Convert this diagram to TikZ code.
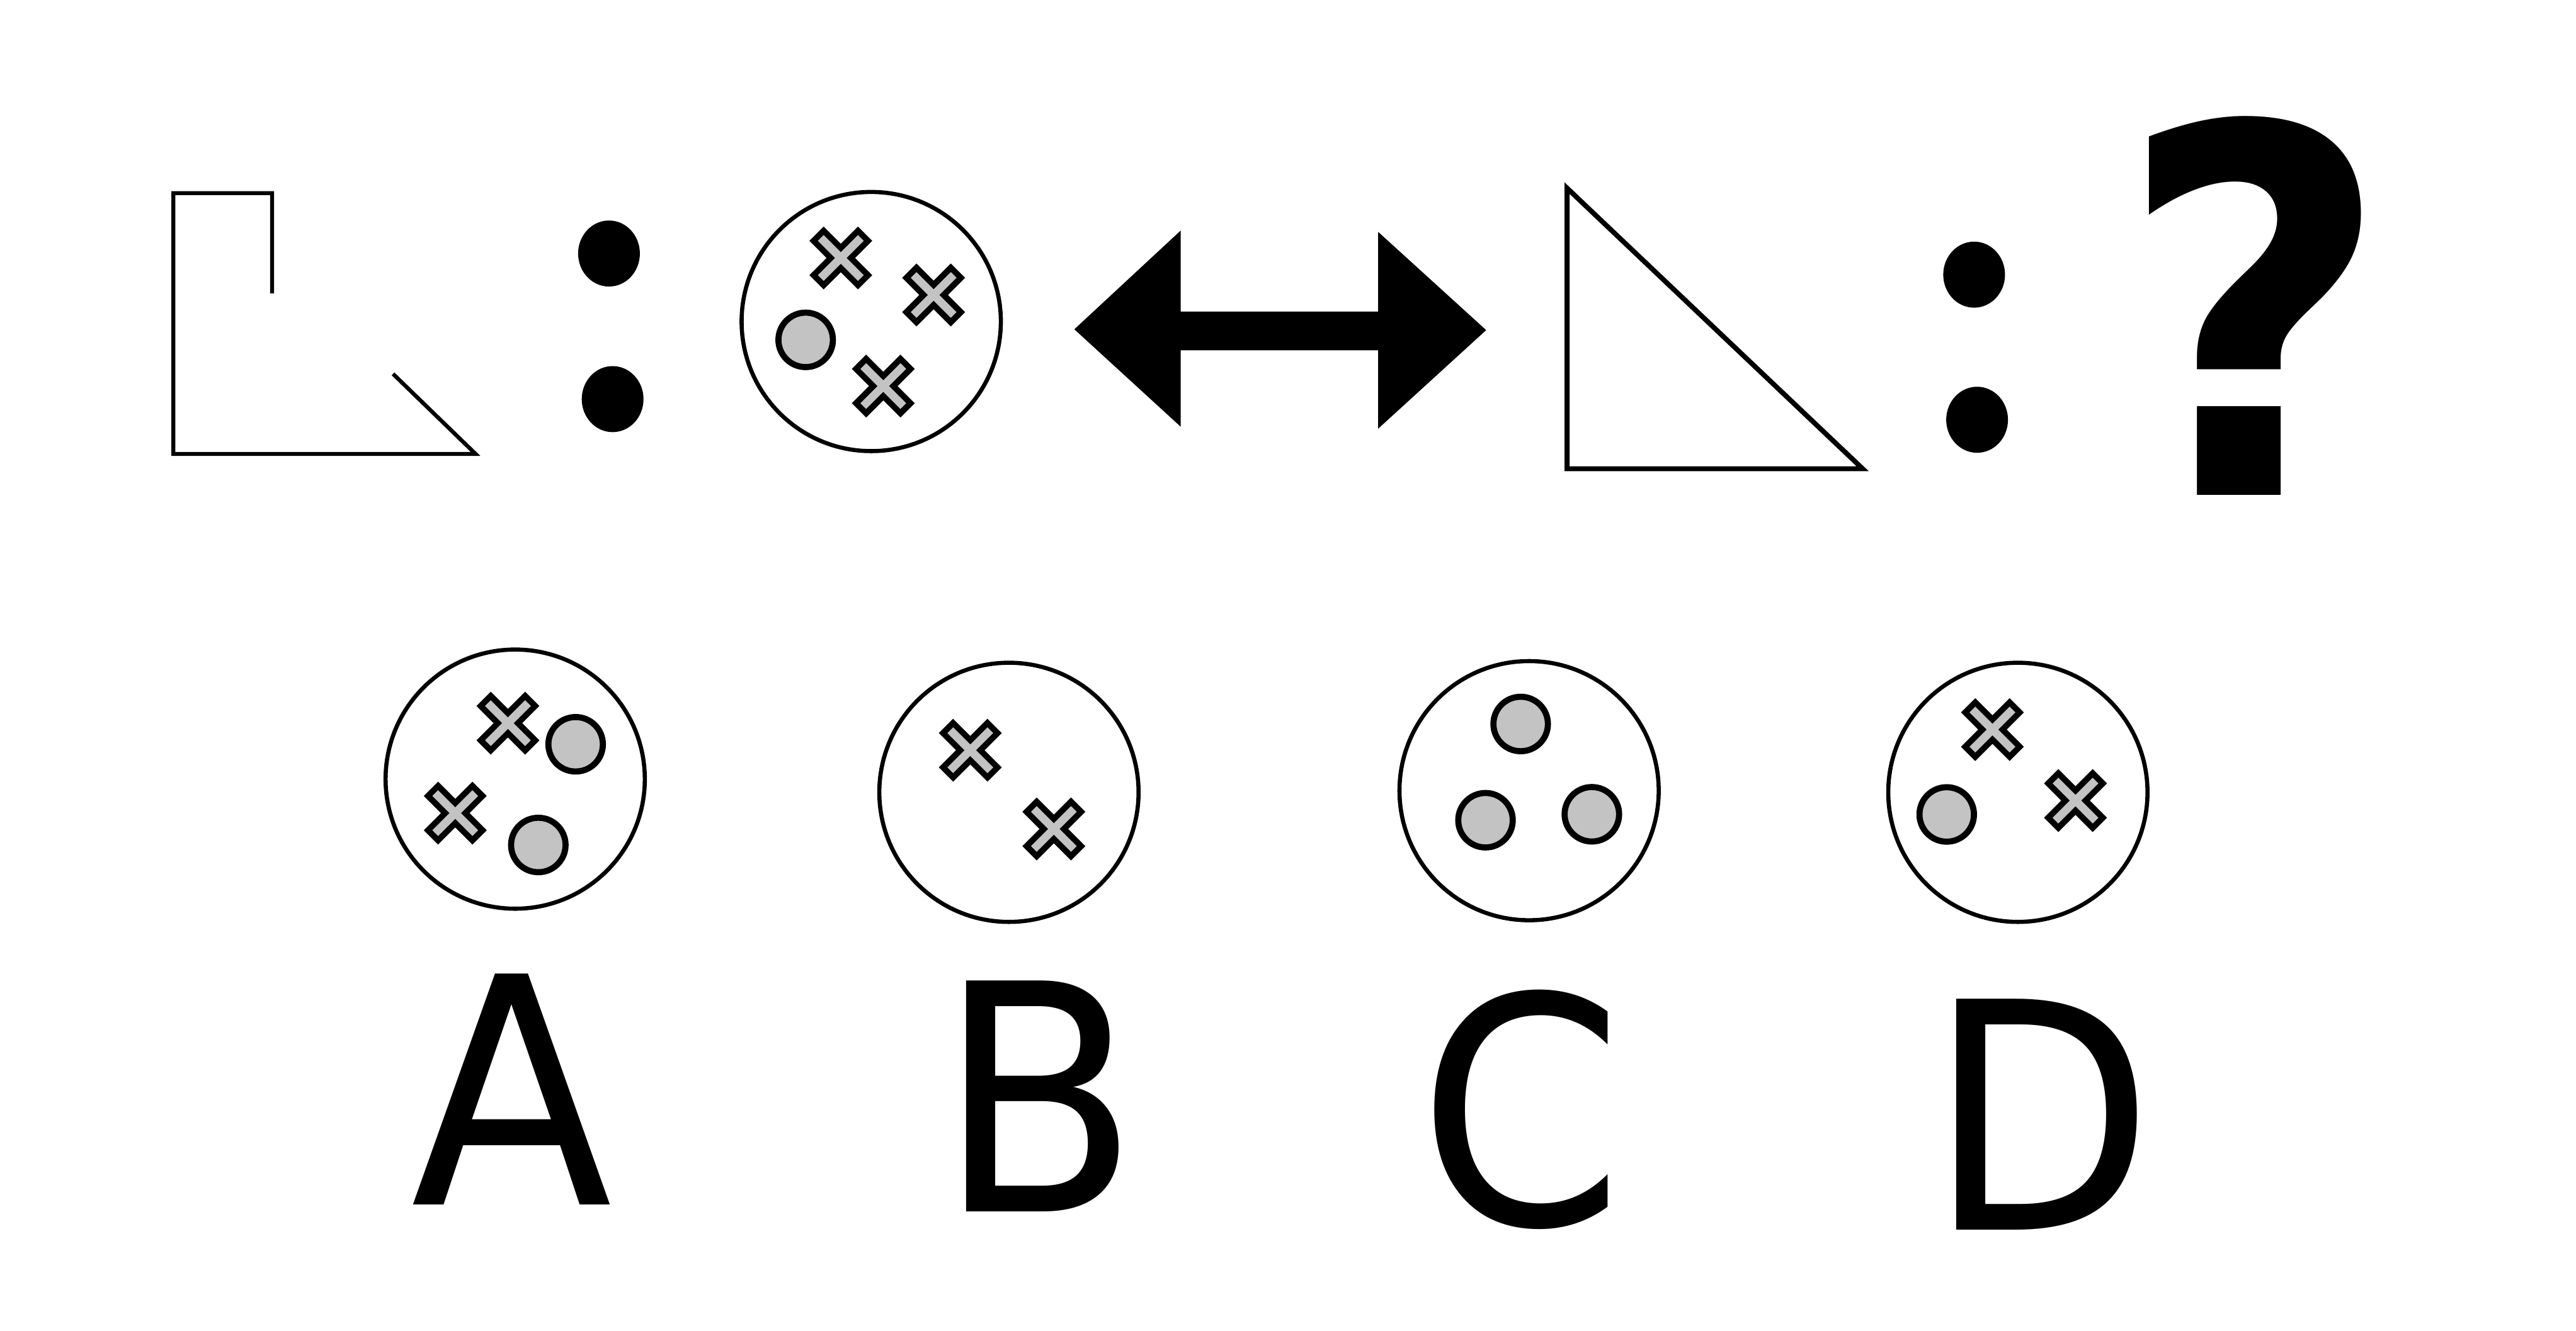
\documentclass[tikz,border=0pt]{standalone}
\usepackage{fontspec}
\usepackage{xcolor}
\usetikzlibrary{shapes.geometric}
\newfontfamily\labelfont{DejaVu Sans}
\definecolor{tokengray}{HTML}{C3C3C3}
\begin{document}
\begin{tikzpicture}[x=0.1mm,y=-0.1mm,
	ring/.style={circle,draw,line width=0.25mm,minimum size=15.7mm,inner sep=0pt},
	dot/.style={circle,draw,fill=tokengray,line width=0.37mm,minimum size=3.3mm,inner sep=0pt},
	crossline/.style={draw,fill=tokengray,line width=0.36mm,line join=miter},
	letter/.style={anchor=base,inner sep=0pt,xscale=0.93,font=\labelfont\fontsize{54.6}{60}\selectfont},
	xmark/.pic={\path[crossline] (-10.4,-16.5) -- (0,-6.1) -- (10.4,-16.5) -- (16.5,-10.4) -- (6.1,0) -- (16.5,10.4) -- (10.4,16.5) -- (0,6.1) -- (-10.4,16.5) -- (-16.5,10.4) -- (-6.1,0) -- (-16.5,-10.4) -- cycle;}]
	\useasboundingbox (0,0) rectangle (1560,806);
	% first pair
	\draw[line width=0.24mm] (164.8,177.7) -- (164.8,117) -- (105,117) -- (105,275) -- (288,275) -- (238,226.5);
	\fill (368.8,153.6) ellipse [x radius=1.87mm, y radius=2mm];
	\fill (371,241.8) ellipse [x radius=1.87mm, y radius=2mm];
	\node[ring] (stem) at (527.6,194.8) {};
	\pic at ([shift={(-18.4,-38.5)}]stem.center) {xmark};
	\pic at ([shift={(37.8,-16.1)}]stem.center) {xmark};
	\pic at ([shift={(7.3,39.1)}]stem.center) {xmark};
	\node[dot] (s1) at ([shift={(-39.7,11.1)}]stem.center) {};
	% double arrow
	\fill (650.6,199.5) -- (715,139.7) -- (715,188.8) -- (834.6,188.8) -- (834.6,140.5) -- (900,200) -- (834.6,259.7) -- (834.6,212.2) -- (715,212.2) -- (715,258.5) -- cycle;
	% second pair
	\draw[line width=0.3mm] (949,114) -- (949,284) -- (1128,284) -- cycle;
	\fill (1195.5,166.4) ellipse [x radius=1.87mm, y radius=2mm];
	\fill (1197.3,254.3) ellipse [x radius=1.87mm, y radius=2mm];
	\node[anchor=base,inner sep=0pt,xscale=0.93,font=\labelfont\bfseries\fontsize{88}{90}\selectfont] (qmark) at (1365,300) {?};
	% options
	\node[ring] (optA) at (312,472) {};
	\pic at ([shift={(-4.4,-33.9)}]optA.center) {xmark};
	\pic at ([shift={(-36.3,20.6)}]optA.center) {xmark};
	\node[dot] (a1) at ([shift={(36.6,-21.1)}]optA.center) {};
	\node[dot] (a2) at ([shift={(14,39.9)}]optA.center) {};
	\node[ring] (optB) at (611,480) {};
	\pic at ([shift={(-23.4,-25.5)}]optB.center) {xmark};
	\pic at ([shift={(27.2,22.2)}]optB.center) {xmark};
	\node[ring] (optC) at (926,479) {};
	\node[dot] (c1) at ([shift={(-5.1,-40.4)}]optC.center) {};
	\node[dot] (c2) at ([shift={(-26.4,17.9)}]optC.center) {};
	\node[dot] (c3) at ([shift={(38,14.3)}]optC.center) {};
	\node[ring] (optD) at (1222,480) {};
	\pic at ([shift={(-15.4,-38)}]optD.center) {xmark};
	\pic at ([shift={(34.9,5)}]optD.center) {xmark};
	\node[dot] (d1) at ([shift={(-43.1,13.4)}]optD.center) {};
	% labels
	\node[letter] (labA) at (310,730) {A};
	\node[letter] (labB) at (629,734) {B};
	\node[letter] (labC) at (921,742) {C};
	\node[letter] (labD) at (1236,745) {D};
\end{tikzpicture}
\end{document}
